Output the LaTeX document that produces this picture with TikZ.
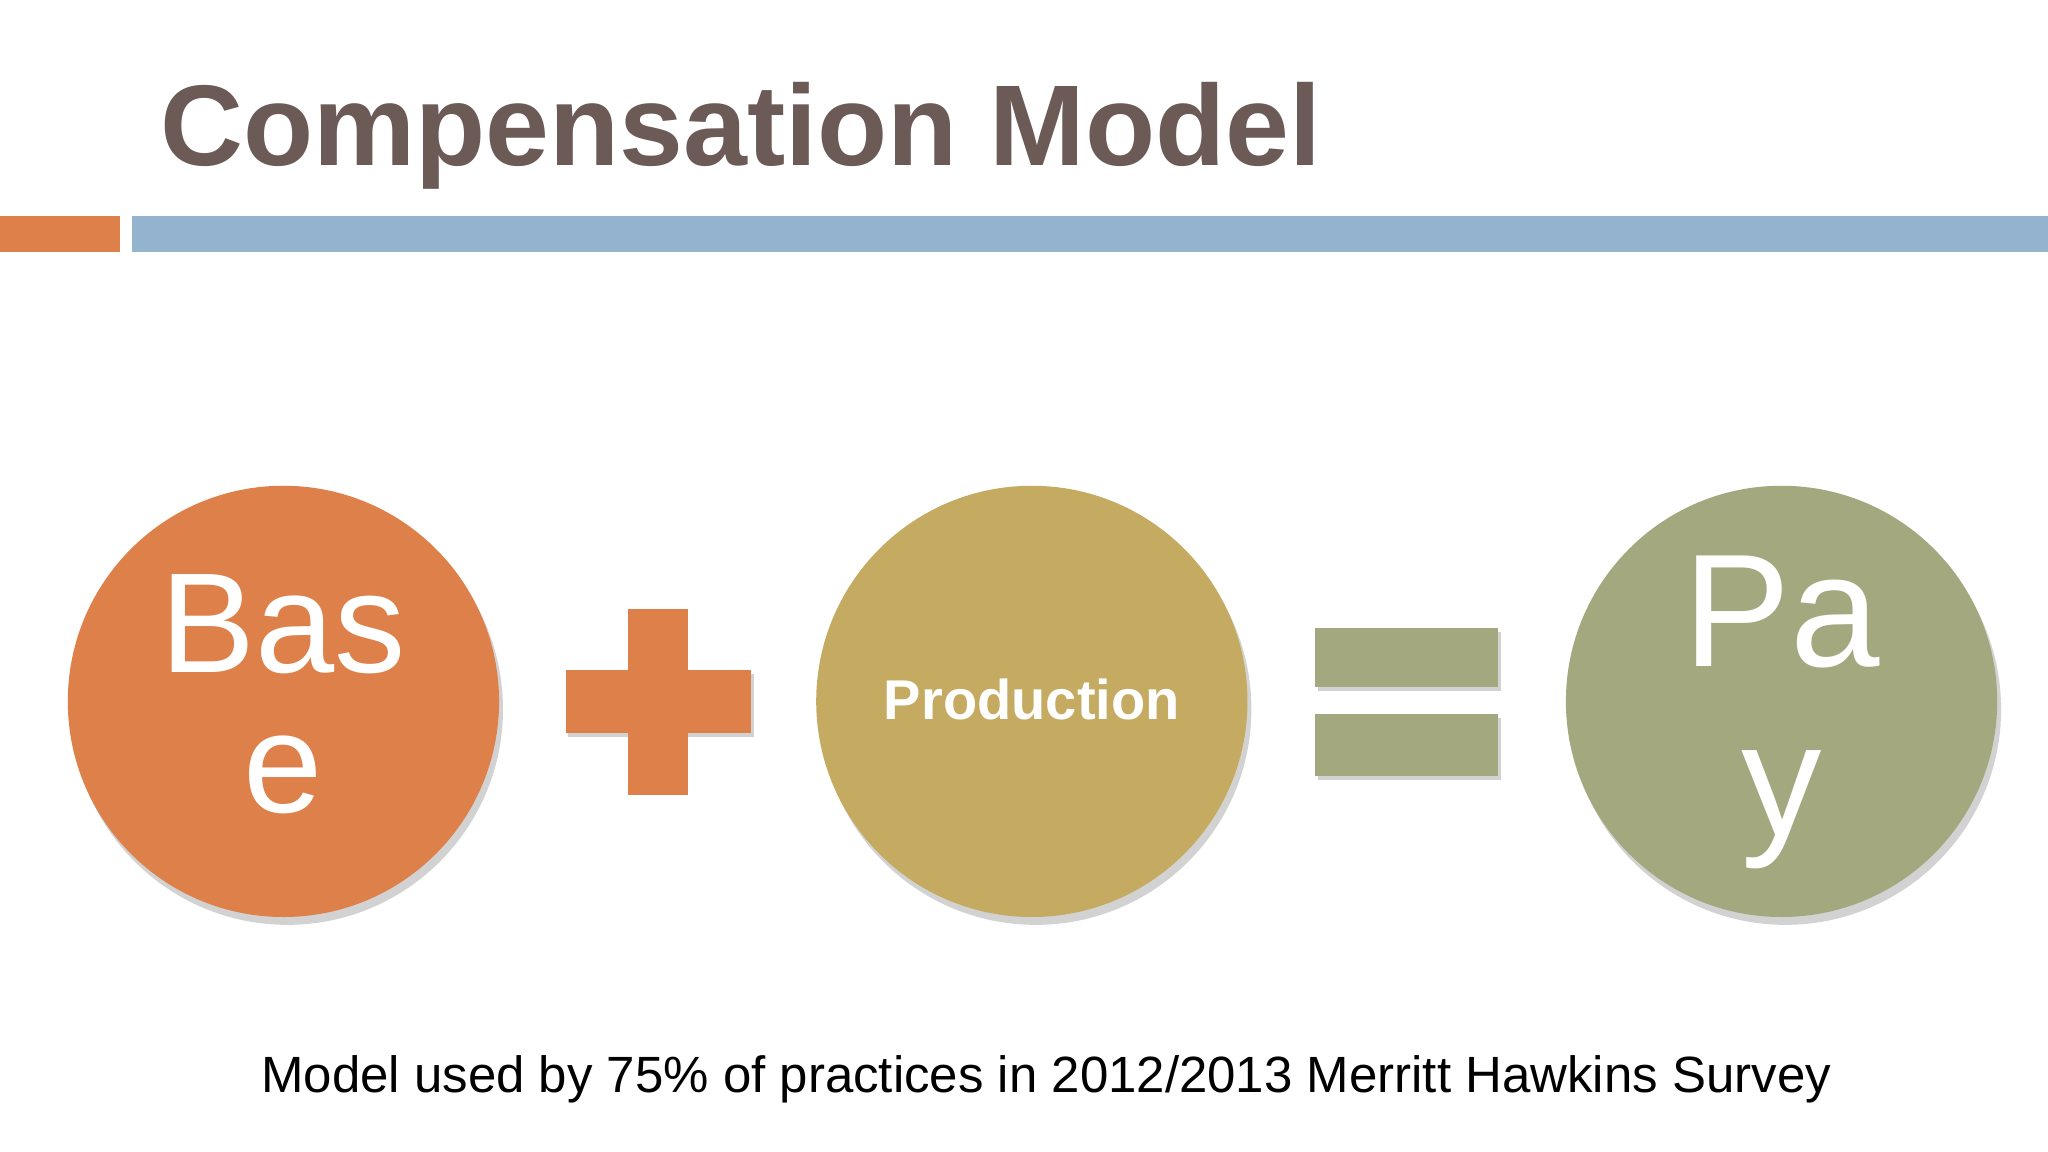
\documentclass[tikz,border=0pt]{standalone}
\usepackage{fontspec}
\setmainfont{Liberation Sans}
\usetikzlibrary{shadows}
\definecolor{ttl}{HTML}{6B5A55}
\definecolor{org}{HTML}{DE8049}
\definecolor{blu}{HTML}{93B3CF}
\definecolor{gld}{HTML}{C5AA62}
\definecolor{olv}{HTML}{A3A87F}
\tikzset{
  circ/.style={circle,minimum size=3.3cm,inner sep=0pt,
    drop shadow={shadow xshift=0.03cm,shadow yshift=-0.06cm,opacity=0.35}},
  bar/.style={draw=none,drop shadow={shadow xshift=0.02cm,shadow yshift=-0.03cm,opacity=0.35}},
  lbl/.style={anchor=base,inner sep=0pt,text=white}
}
\begin{document}
\begin{tikzpicture}[x=0.01cm,y=-0.01cm]
\useasboundingbox[fill=white] (0,0) rectangle (1568,882);
\node[anchor=base west,text=ttl,font=\fontsize{25}{25}\selectfont\bfseries,inner sep=0pt] (title) at (122,127) {Compensation Model};
\fill[org] (0,165) rectangle (92,193);
\fill[blu] (101,165) rectangle (1568,193);
\node[circ,fill=org] (base) at (217,537) {};
\node[lbl,font=\fontsize{31}{31}\selectfont] (b1) at (217,515) {Bas};
\node[lbl,font=\fontsize{31}{31}\selectfont] (b2) at (217,622) {e};
\fill[org,bar] (433,513) rectangle (575,561);
\fill[org] (481,466) rectangle (527,609);
\node[circ,fill=gld] (prod) at (790,537) {};
\node[lbl,font=\fontsize{12.2}{14}\selectfont\bfseries] (p1) at (790,551) {Production};
\fill[olv,bar] (1007,481) rectangle (1147,526);
\fill[olv,bar] (1007,547) rectangle (1147,594);
\node[circ,fill=olv] (pay) at (1364,537) {};
\node[lbl,font=\fontsize{35}{35}\selectfont] (y1) at (1364,510) {Pa};
\node[lbl,font=\fontsize{35}{35}\selectfont] (y2) at (1364,640) {y};
\node[font=\fontsize{11.1}{12}\selectfont] (cap) at (801,826) {Model used by 75\% of practices in 2012/2013 Merritt Hawkins Survey};
\end{tikzpicture}
\end{document}
